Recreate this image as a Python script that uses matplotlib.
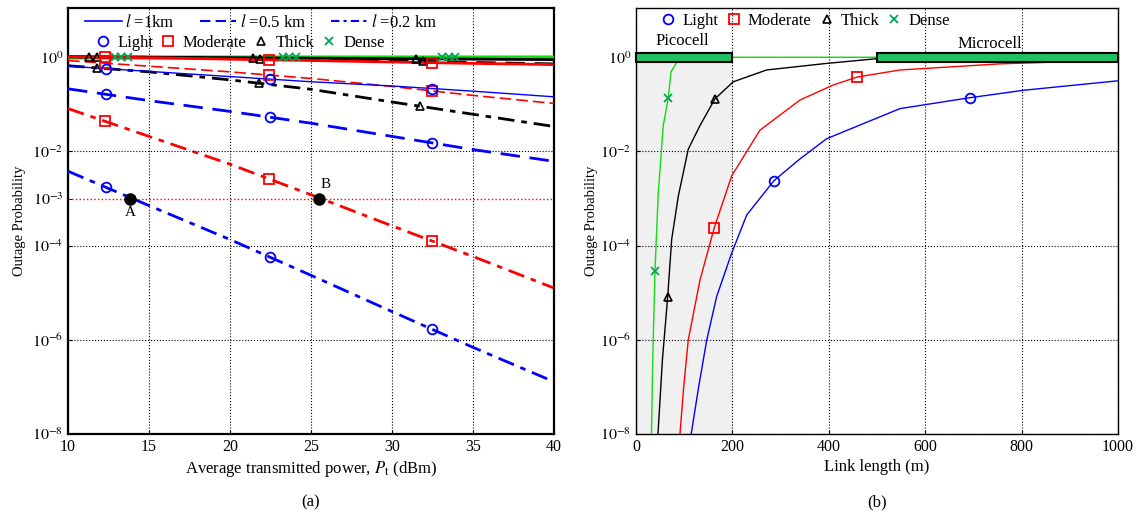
"""Outage probability vs transmitted power (a) and vs link length (b) for four fog types."""

import numpy as np
import matplotlib

matplotlib.use("Agg")
import matplotlib.pyplot as plt
from matplotlib.lines import Line2D
from matplotlib.patches import Rectangle
from matplotlib.ticker import NullLocator

plt.rcParams["font.family"] = ["Liberation Serif", "DejaVu Serif"]
plt.rcParams["mathtext.fontset"] = "stix"

# ---- panel (a): log10(outage probability) vs average transmitted power ----
power_dbm = [10, 15, 20, 25, 30, 35, 40]
light_1km = [-0.19, -0.30, -0.41, -0.52, -0.61, -0.72, -0.84]
light_05km = [-0.67, -0.92, -1.15, -1.40, -1.68, -1.96, -2.21]
light_02km = [-2.42, -3.15, -3.87, -4.63, -5.40, -6.16, -6.89]
moderate_1km = [0.01, -0.01, -0.04, -0.07, -0.10, -0.13, -0.155]
moderate_05km = [-0.07, -0.19, -0.31, -0.45, -0.62, -0.81, -0.98]
moderate_02km = [-1.09, -1.68, -2.27, -2.92, -3.58, -4.23, -4.90]
thick_1km = [0.01, 0.0, -0.01, -0.02, -0.03, -0.04, -0.05]
thick_05km = [0.01, 0.0, -0.02, -0.04, -0.075, -0.11, -0.14]
thick_02km = [-0.18, -0.31, -0.48, -0.68, -0.95, -1.21, -1.47]
dense_1km = [0.0, 0.0, 0.0, 0.0, 0.0, 0.0, 0.0]
dense_05km = [0.0, 0.0, 0.0, 0.0, 0.0, 0.0, 0.0]
dense_02km = [0.0, 0.0, 0.0, 0.0, 0.0, 0.0, 0.0]

# where the markers sit on each curve (dBm)
light_marks = [12.35, 22.5, 32.5]
moderate_marks = [12.3, 22.4, 32.5]
thick_1km_marks = [11.3, 21.4, 31.5]
thick_05km_marks = [11.8, 21.85, 31.9]
thick_02km_marks = [11.77, 21.8, 31.7]
dense_1km_marks = [12.9, 23.25, 33.07]
dense_05km_marks = [13.3, 23.66, 33.5]
dense_02km_marks = [13.7, 24.07, 33.9]

target_outage = 1e-3
point_labels = ["A", "B"]
point_power = [13.83, 25.5]

# ---- panel (b): log10(outage probability) vs link length ----
dense_len = [32.0, 35.0, 39.4, 46.3, 56.6, 67.0, 72.6, 84.4, 100, 1000]
dense_log = [-8.1, -6.3, -4.53, -2.87, -1.45, -0.86, -0.31, -0.11, 0.0, 0.0]
thick_len = [45, 55, 65.7, 74, 87.8, 108.5, 132.8, 164, 202, 271, 396, 500, 1000]
thick_log = [-8.1, -6.4, -5.1, -3.87, -2.95, -1.95, -1.45, -0.88, -0.52, -0.27, -0.13, -0.03, 0.0]
moderate_len = [90.5, 99, 108.5, 132.8, 162.4, 198.5, 257, 340, 409, 459, 548, 755, 1000]
moderate_log = [-8.1, -7.0, -6.0, -4.73, -3.62, -2.52, -1.55, -0.91, -0.59, -0.42, -0.27, -0.14, -0.06]
light_len = [113, 130, 146.7, 167.4, 198.5, 229.7, 286.3, 340, 395.6, 478.6, 548, 692, 805, 1000]
light_log = [-8.1, -7.0, -6.01, -5.08, -4.16, -3.35, -2.62, -2.16, -1.73, -1.38, -1.09, -0.86, -0.70, -0.50]

dense_len_marks = [39.4, 67.0]
thick_len_marks = [65.7, 164]
moderate_len_marks = [162.4, 459]
light_len_marks = [286.3, 692]

picocell_range = [0, 200]
microcell_range = [500, 1000]

BLUE, RED, BLACK = "#0000ff", "#ff0000", "black"
GREEN_LINE, GREEN_MARK, GREEN_BAR = "#11dd11", "#00a651", "#1fc262"
LONG_DASH = (0, (7, 3.5))
DASH_DOT = (0, (6, 2.5, 2, 2.5))
MARKERS = {
    "Light": dict(marker="o", color=BLUE, ms=7, mfc="none", mew=1.3),
    "Moderate": dict(marker="s", color=RED, ms=6.5, mfc="none", mew=1.3),
    "Thick": dict(marker="^", color=BLACK, ms=5.5, mfc="none", mew=1.2),
    "Dense": dict(marker="x", color=GREEN_MARK, ms=6, mew=1.3),
}

fig = plt.figure(figsize=(11.41, 5.21), dpi=100)
ax_a = fig.add_axes([0.0596, 0.167, 0.4259, 0.818])
ax_b = fig.add_axes([0.5574, 0.167, 0.4224, 0.818])

# (curve, weather, colour, linestyle, linewidth, marker positions)
curves_a = [
    (dense_1km, "Dense", GREEN_LINE, "-", 2.5, dense_1km_marks),
    (dense_05km, "Dense", GREEN_LINE, "-", 2.5, dense_05km_marks),
    (dense_02km, "Dense", GREEN_LINE, "-", 2.5, dense_02km_marks),
    (thick_1km, "Thick", BLACK, "-", 2.0, thick_1km_marks),
    (thick_05km, "Thick", BLACK, LONG_DASH, 2.0, thick_05km_marks),
    (moderate_1km, "Moderate", RED, "-", 2.0, moderate_marks),
    (thick_02km, "Thick", BLACK, DASH_DOT, 2.0, thick_02km_marks),
    (moderate_05km, "Moderate", RED, (0, (7, 3)), 1.2, moderate_marks),
    (light_1km, "Light", BLUE, "-", 1.0, light_marks),
    (light_05km, "Light", BLUE, LONG_DASH, 2.0, light_marks),
    (moderate_02km, "Moderate", RED, DASH_DOT, 2.0, moderate_marks),
    (light_02km, "Light", BLUE, DASH_DOT, 2.0, light_marks),
]
for log_vals, weather, colour, style, width, marks in curves_a:
    ax_a.plot(power_dbm, 10.0 ** np.array(log_vals), color=colour, ls=style, lw=width, zorder=3)
    mark_y = 10.0 ** np.interp(marks, power_dbm, log_vals)
    ax_a.plot(marks, mark_y, ls="none", zorder=4, **MARKERS[weather])

ax_a.axhline(target_outage, color=RED, ls=":", lw=1.0, zorder=2)
ax_a.plot(point_power, [target_outage] * len(point_power), "o", color="black", ms=8, zorder=5)
ax_a.text(point_power[0], target_outage * 10 ** -0.3, point_labels[0], ha="center", va="center", fontsize=11)
ax_a.text(point_power[1] + 0.4, target_outage * 10 ** 0.3, point_labels[1], ha="center", va="center", fontsize=11)

ax_a.set_xlim(10, 40)
ax_a.set_ylim(1e-8, 10 ** 1.05)
ax_a.set_yscale("log")
ax_a.set_xticks([10, 15, 20, 25, 30, 35, 40])
ax_a.set_yticks([1e-8, 1e-6, 1e-4, 1e-2, 1e0])
ax_a.set_yticklabels(["$10^{-8}$", "$10^{-6}$", "$10^{-4}$", "$10^{-2}$", "$10^{0}$"])
ax_a.set_yticks([target_outage], minor=True)
ax_a.set_yticklabels(["$10^{-3}$"], minor=True, fontsize=8)
ax_a.grid(True, which="major", color="black", ls=":", lw=0.8)
ax_a.set_xlabel("Average transmitted power, $P_\\mathrm{t}$ (dBm)", fontsize=12, labelpad=3)
ax_a.set_ylabel("Outage Probability", fontsize=10.5, labelpad=4)

line_handles = [
    Line2D([], [], color=BLUE, ls="-", lw=1.2),
    Line2D([], [], color=BLUE, ls=(0, (5, 2.5)), lw=1.5),
    Line2D([], [], color=BLUE, ls=(0, (4, 2, 1.5, 2)), lw=1.5),
]
leg1 = ax_a.legend(line_handles, ["$l$ =1km", "$l$ =0.5 km", "$l$ =0.2 km"], loc="center left",
                   bbox_to_anchor=(0.035, 0.965), ncol=3, frameon=False, fontsize=12,
                   handlelength=2.2, handletextpad=0.2, columnspacing=1.5, borderaxespad=0, borderpad=0)
ax_a.add_artist(leg1)


def marker_handles():
    return [Line2D([], [], ls="none", **MARKERS[w]) for w in ["Light", "Moderate", "Thick", "Dense"]]


ax_a.legend(marker_handles(), ["Light", "Moderate", "Thick", "Dense"], loc="center left",
            bbox_to_anchor=(0.055, 0.918), ncol=4, frameon=False, fontsize=12,
            handlelength=1.0, handletextpad=0.35, columnspacing=0.4, borderaxespad=0, borderpad=0)

# ---- panel (b) ----
ax_b.axvspan(picocell_range[0], picocell_range[1], ymin=0, ymax=1.0 / 1.131, color="#f0f0f0", zorder=0)
curves_b = [
    (dense_len, dense_log, dense_len_marks, "Dense", GREEN_LINE),
    (moderate_len, moderate_log, moderate_len_marks, "Moderate", RED),
    (light_len, light_log, light_len_marks, "Light", BLUE),
    (thick_len, thick_log, thick_len_marks, "Thick", BLACK),
]
for lengths, log_vals, marks, weather, colour in curves_b:
    ax_b.plot(lengths, 10.0 ** np.array(log_vals), color=colour, lw=1.0, zorder=3)
    mark_y = 10.0 ** np.interp(marks, lengths, log_vals)
    ax_b.plot(marks, mark_y, ls="none", zorder=4, **MARKERS[weather])

for start, stop in [picocell_range, microcell_range]:
    ax_b.add_patch(Rectangle((start, 10 ** -0.1), stop - start, 10 ** 0.1 - 10 ** -0.1,
                             facecolor=GREEN_BAR, edgecolor="black", lw=1.5, zorder=6, clip_on=False))
ax_b.text(97, 10 ** 0.34, "Picocell", ha="center", va="center", fontsize=12)
ax_b.text(734, 10 ** 0.28, "Microcell", ha="center", va="center", fontsize=12)

ax_b.set_xlim(0, 1000)
ax_b.set_ylim(1e-8, 10 ** 1.05)
ax_b.set_yscale("log")
ax_b.set_xticks([0, 200, 400, 600, 800, 1000])
ax_b.set_yticks([1e-8, 1e-6, 1e-4, 1e-2, 1e0])
ax_b.set_yticklabels(["$10^{-8}$", "$10^{-6}$", "$10^{-4}$", "$10^{-2}$", "$10^{0}$"])
ax_b.yaxis.set_minor_locator(NullLocator())
ax_b.grid(True, which="major", color="black", ls=":", lw=0.8)
ax_b.set_xlabel("Link length (m)", fontsize=12, labelpad=3)
ax_b.set_ylabel("Outage Probability", fontsize=10.5, labelpad=1)
ax_b.legend(marker_handles(), ["Light", "Moderate", "Thick", "Dense"], loc="center left",
            bbox_to_anchor=(0.05, 0.97), ncol=4, frameon=False, fontsize=12,
            handlelength=1.0, handletextpad=0.35, columnspacing=0.4, borderaxespad=0, borderpad=0)

for ax, spine_w in [(ax_a, 1.6), (ax_b, 1.0)]:
    ax.tick_params(which="both", direction="in", labelsize=11.5, length=3, top=False, right=False)
    for spine in ax.spines.values():
        spine.set_linewidth(spine_w)

fig.text(0.2726, 0.035, "(a)", ha="center", va="center", fontsize=12)
fig.text(0.7686, 0.035, "(b)", ha="center", va="center", fontsize=12)

fig.savefig("out.png", dpi=100)
